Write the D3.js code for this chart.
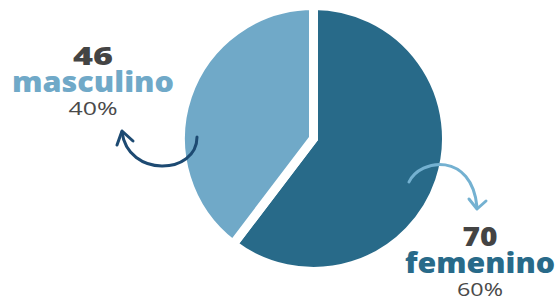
<!DOCTYPE html>
<html>
<head>
<meta charset="utf-8">
<script src="https://cdn.jsdelivr.net/npm/d3@7"></script>
<style>
  body { margin: 0; background: #fff; }
  text { font-family: "Open Sans", "Roboto", sans-serif; }
</style>
</head>
<body>
<div id="vis-container"></div>
<script>
// chart data
let categories = ["femenino", "masculino"];
let counts = [70, 46];
let percents = ["60%", "40%"];
let sliceColors = ["#286a89", "#70a9c8"];

let width = 558, height = 299;
let cx = 313.5, cy = 138.5, radius = 128.5;

let svg = d3.select("#vis-container")
            .append("svg")
            .attr("width", width)
            .attr("height", height);

// pie, clockwise from 12 o'clock
let pie = d3.pie().sort(null).value(d => d);
let arc = d3.arc().innerRadius(0).outerRadius(radius + 4.5);

svg.append("g")
  .attr("transform", "translate(" + cx + "," + cy + ")")
  .selectAll("path")
  .data(pie(counts))
  .enter()
  .append("path")
    .attr("d", arc)
    .attr("fill", (d, i) => sliceColors[i])
    .attr("stroke", "#fff")
    .attr("stroke-width", 9)
    .attr("stroke-linejoin", "miter");

// labels (widths stretched to mimic the wide display face)
let labels = [
  {x: 480, y: 246, count: counts[0], name: categories[0], pct: percents[0], color: sliceColors[0], size: 27, nw: 35, w: 150, pw: 46},
  {x: 93,  y: 65,  count: counts[1], name: categories[1], pct: percents[1], color: sliceColors[1], size: 24, nw: 40, w: 162, pw: 49}
];

labels.forEach(l => {
  svg.append("text")
    .attr("x", l.x).attr("y", l.y)
    .attr("text-anchor", "middle")
    .attr("font-size", l.size + "px")
    .attr("font-weight", 800)
    .attr("fill", "#444")
    .attr("textLength", l.nw)
    .attr("lengthAdjust", "spacingAndGlyphs")
    .text(l.count);
  svg.append("text")
    .attr("x", l.x).attr("y", l.y + 27)
    .attr("text-anchor", "middle")
    .attr("font-size", "28px")
    .attr("font-weight", 800)
    .attr("fill", l.color)
    .attr("textLength", l.w)
    .attr("lengthAdjust", "spacingAndGlyphs")
    .text(l.name);
  svg.append("text")
    .attr("x", l.x).attr("y", l.y + 50)
    .attr("text-anchor", "middle")
    .attr("font-size", "19px")
    .attr("font-weight", 400)
    .attr("fill", "#4a4a4a")
    .attr("textLength", l.pw)
    .attr("lengthAdjust", "spacingAndGlyphs")
    .text(l.pct);
});

// curved arrows
let arrows = [
  {d: "M197,137 C197,175 128,178 122,132", head: "M117,145 L122,131 L133,141", color: "#1d4a72"},
  {d: "M409,182 C420,158 472,152 477,207", head: "M469,199 L477,209 L486,201", color: "#74b1d1"}
];

arrows.forEach(a => {
  svg.append("path")
    .attr("d", a.d)
    .attr("fill", "none")
    .attr("stroke", a.color)
    .attr("stroke-width", 3)
    .attr("stroke-linecap", "round");
  svg.append("path")
    .attr("d", a.head)
    .attr("fill", "none")
    .attr("stroke", a.color)
    .attr("stroke-width", 3)
    .attr("stroke-linecap", "round")
    .attr("stroke-linejoin", "round");
});
</script>
</body>
</html>
